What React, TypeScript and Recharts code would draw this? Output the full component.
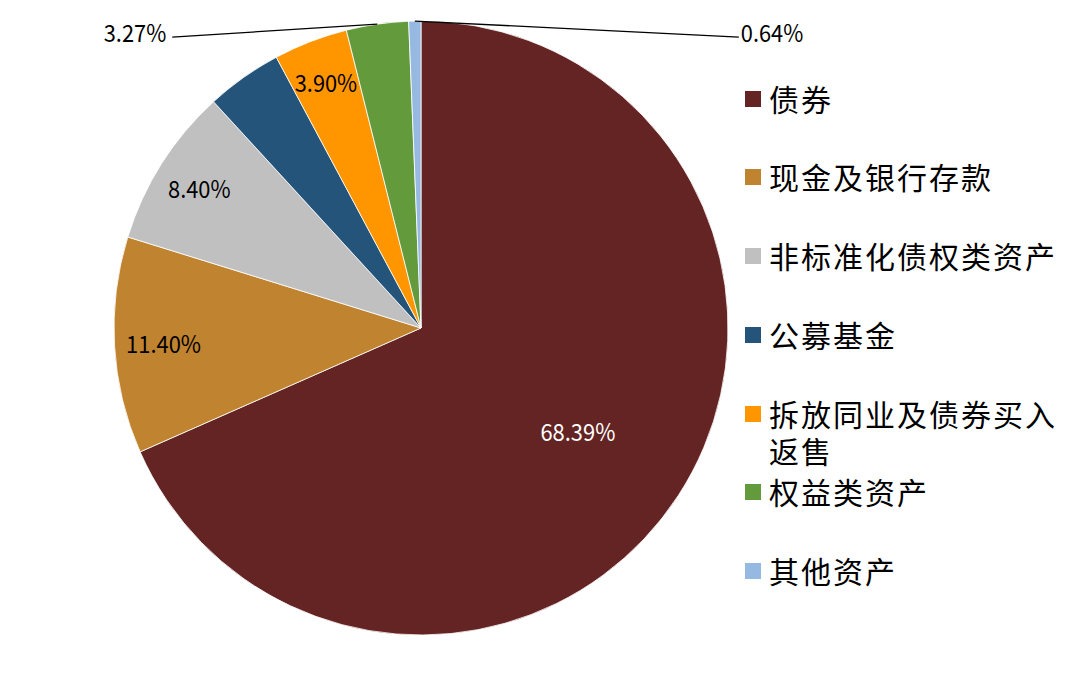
import React from 'react';
import { PieChart, Pie, Cell } from 'recharts';

const categories = ['债券', '现金及银行存款', '非标准化债权类资产', '公募基金', '拆放同业及债券买入返售', '权益类资产', '其他资产'];
const values = [68.39, 11.4, 8.4, 4.0, 3.9, 3.27, 0.64];
const showLabel = [true, true, true, false, true, true, true];

const colors = ['#632423', '#C0832F', '#C0C0C0', '#24547A', '#FF9600', '#629A3C', '#95B9E0'];
// label styling: radius factor for inside labels, or outside leader offsets
const labelStyle: any[] = [
  { r: 0.61, fill: '#ffffff' },
  { r: 0.84, fill: '#000000' },
  { r: 0.855, fill: '#000000' },
  null,
  { r: 0.86, fill: '#000000' },
  { out: true, dx: -205, dy: 13, anchor: 'end' },
  { out: true, dx: 324, dy: 16, anchor: 'start' },
];

const data = categories.map((name, i) => ({ name, value: values[i] }));

const RAD = Math.PI / 180;
const FONT = '"Noto Sans CJK SC", "Noto Sans", sans-serif';
const CHAR_W = 12.5;

const renderLabel = (props: any) => {
  const { cx, cy, midAngle, outerRadius, index, value } = props;
  if (!showLabel[index]) return null;
  const st = labelStyle[index];
  const text = `${Number(value).toFixed(2)}%`;
  const cos = Math.cos(-midAngle * RAD);
  const sin = Math.sin(-midAngle * RAD);
  const tl = text.length * CHAR_W;
  const common = {
    dominantBaseline: 'central' as any,
    fontSize: 24,
    fontFamily: FONT,
    textLength: tl,
    lengthAdjust: 'spacingAndGlyphs',
  };
  if (st.out) {
    const x0 = cx + outerRadius * cos;
    const y0 = cy + outerRadius * sin;
    const x1 = x0 + st.dx;
    const y1 = y0 + st.dy;
    const tx = st.anchor === 'end' ? x1 - 6 - tl : x1 + 2;
    return (
      <g key={`l${index}`}>
        <path d={`M${x0},${y0}L${x1},${y1}`} stroke="#000" strokeWidth={1.3} fill="none" />
        <text x={tx} y={y1 - 6} textAnchor="start" fill="#000" {...common}>
          {text}
        </text>
      </g>
    );
  }
  const r = outerRadius * st.r;
  return (
    <text key={`l${index}`} x={cx + r * cos - tl / 2} y={cy + r * sin} textAnchor="start" fill={st.fill} {...common}>
      {text}
    </text>
  );
};

export default function App() {
  return (
    <div style={{ position: 'absolute', left: 0, top: 0, width: 1080, height: 676, background: '#fff', overflow: 'hidden' }}>
      <PieChart width={1080} height={676} margin={{ top: 0, right: 0, bottom: 0, left: 0 }}>
        <Pie
          data={data}
          dataKey="value"
          nameKey="name"
          cx={421}
          cy={328}
          outerRadius={307}
          startAngle={90}
          endAngle={-270}
          stroke="#ffffff"
          strokeWidth={0.8}
          label={renderLabel}
          labelLine={false}
          isAnimationActive={false}
        >
          {data.map((d, i) => (
            <Cell key={d.name} fill={colors[i]} />
          ))}
        </Pie>
      </PieChart>
      <div style={{ position: 'absolute', left: 745, top: 58.5, width: 310, fontFamily: FONT }}>
        {data.map((d, i) => (
          <div key={d.name} style={{ position: 'relative', height: 78.8 }}>
            <div style={{ position: 'absolute', left: 0, top: 32, width: 16, height: 16, background: colors[i] }} />
            <div style={{ position: 'absolute', left: 24, top: 21, width: 300, fontSize: 30, lineHeight: '37px', color: '#000', letterSpacing: 2 }}>
              {d.name}
            </div>
          </div>
        ))}
      </div>
    </div>
  );
}
